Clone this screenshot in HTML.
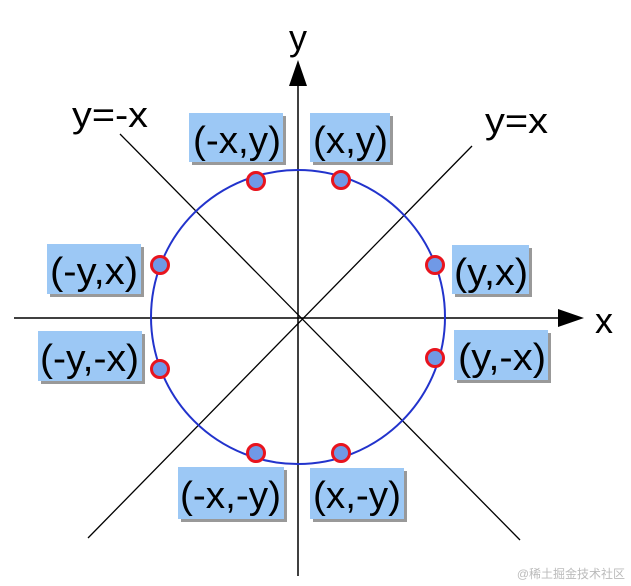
<!DOCTYPE html>
<html><head><style>body{margin:0;background:#fff}svg{display:block}</style></head><body>
<svg width="631" height="586" viewBox="0 0 631 586" xmlns="http://www.w3.org/2000/svg" font-family="Liberation Sans, sans-serif">
<line x1="298" y1="80" x2="298" y2="576" stroke="#000" stroke-width="1.5"/>
<polygon points="298,60 289,86 307,86" fill="#000"/>
<line x1="14" y1="318" x2="562" y2="318" stroke="#000" stroke-width="1.5"/>
<polygon points="584,318 558,309 558,327" fill="#000"/>
<line x1="88" y1="538" x2="472" y2="146" stroke="#000" stroke-width="1.3"/>
<line x1="120" y1="134" x2="520" y2="540" stroke="#000" stroke-width="1.3"/>
<circle cx="298" cy="317" r="147" fill="none" stroke="#2233cc" stroke-width="2"/>
<text x="298" y="50" font-size="36" text-anchor="middle">y</text>
<text x="595" y="333" font-size="36">x</text>
<text x="72" y="127" font-size="36" textLength="76" lengthAdjust="spacingAndGlyphs">y=-x</text>
<text x="485" y="133" font-size="36" textLength="63" lengthAdjust="spacingAndGlyphs">y=x</text>
<g font-size="38" fill="#000" lengthAdjust="spacingAndGlyphs">
<rect x="192" y="116" width="94" height="49" fill="#999"/><rect x="189" y="113" width="94" height="49" fill="#9cc8f5"/><text x="193" y="153" textLength="88" lengthAdjust="spacingAndGlyphs">(-x,y)</text>
<rect x="313" y="116" width="80" height="49" fill="#999"/><rect x="310" y="113" width="80" height="49" fill="#9cc8f5"/><text x="313" y="153" textLength="75" lengthAdjust="spacingAndGlyphs">(x,y)</text>
<rect x="455" y="248" width="77" height="49" fill="#999"/><rect x="452" y="245" width="77" height="49" fill="#9cc8f5"/><text x="454" y="285" textLength="74" lengthAdjust="spacingAndGlyphs">(y,x)</text>
<rect x="457" y="333" width="94" height="50" fill="#999"/><rect x="454" y="330" width="94" height="50" fill="#9cc8f5"/><text x="458" y="370" textLength="88" lengthAdjust="spacingAndGlyphs">(y,-x)</text>
<rect x="50" y="247" width="94" height="50" fill="#999"/><rect x="47" y="244" width="94" height="50" fill="#9cc8f5"/><text x="50" y="284" textLength="88" lengthAdjust="spacingAndGlyphs">(-y,x)</text>
<rect x="41" y="334" width="104" height="50" fill="#999"/><rect x="38" y="331" width="104" height="50" fill="#9cc8f5"/><text x="40" y="371" textLength="99" lengthAdjust="spacingAndGlyphs">(-y,-x)</text>
<rect x="181" y="470" width="106" height="52" fill="#999"/><rect x="178" y="467" width="106" height="52" fill="#9cc8f5"/><text x="180" y="508" textLength="101" lengthAdjust="spacingAndGlyphs">(-x,-y)</text>
<rect x="313" y="471" width="94" height="51" fill="#999"/><rect x="310" y="468" width="94" height="51" fill="#9cc8f5"/><text x="313" y="508" textLength="88" lengthAdjust="spacingAndGlyphs">(x,-y)</text>
</g>
<g fill="#7099e6" stroke="#e8141e" stroke-width="3">
<circle cx="256" cy="181" r="8.5"/><circle cx="341" cy="180" r="8.5"/>
<circle cx="435" cy="265" r="8.5"/><circle cx="435" cy="358" r="8.5"/>
<circle cx="160" cy="265" r="8.5"/><circle cx="160" cy="369" r="8.5"/>
<circle cx="256" cy="453" r="8.5"/><circle cx="341" cy="453" r="8.5"/>
</g>
<text x="625" y="578" font-size="12" fill="#bbb" text-anchor="end" font-family="Liberation Sans, Noto Sans CJK SC, sans-serif">@稀土掘金技术社区</text>
</svg>
</body></html>
